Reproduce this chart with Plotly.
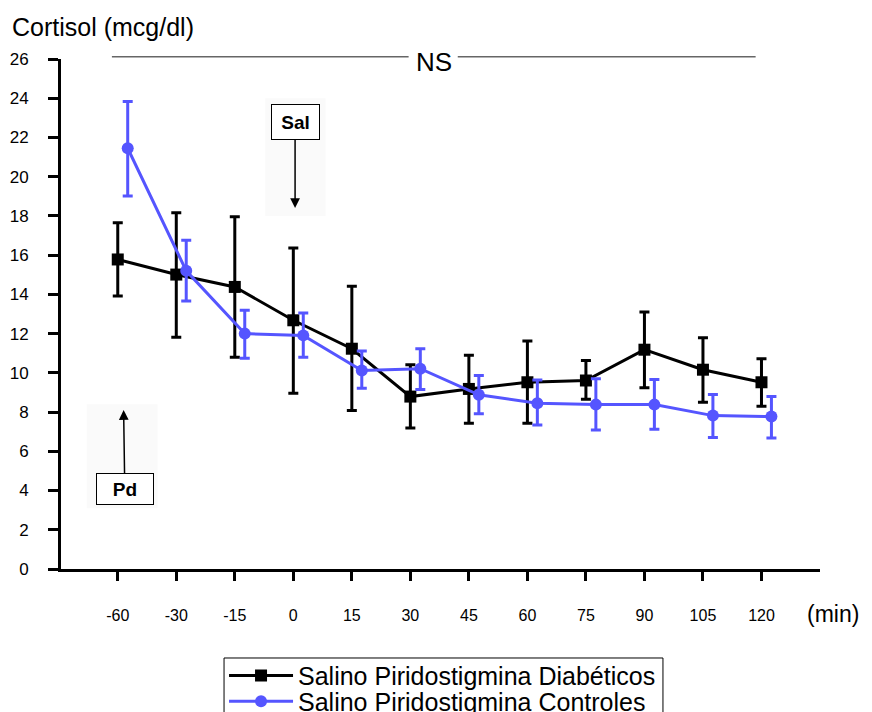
import plotly.graph_objects as go
import numpy as np

# ---- data ----
times = ["-60", "-30", "-15", "0", "15", "30", "45", "60", "75", "90", "105", "120"]

diab_mean = [15.78, 15.01, 14.38, 12.68, 11.23, 8.79, 9.18, 9.52, 9.61, 11.18, 10.16, 9.52]
diab_upper = [17.65, 18.16, 17.96, 16.37, 14.41, 10.41, 10.90, 11.62, 10.63, 13.10, 11.79, 10.72]
diab_lower = [13.92, 11.82, 10.80, 8.96, 8.08, 7.19, 7.43, 7.43, 8.65, 9.24, 8.50, 8.30]

ctrl_mean = [21.45, 15.20, 12.00, 11.91, 10.12, 10.21, 8.88, 8.45, 8.38, 8.38, 7.82, 7.77]
ctrl_upper = [23.83, 16.76, 13.19, 13.05, 11.11, 11.23, 9.86, 9.64, 9.70, 9.66, 8.89, 8.79]
ctrl_lower = [19.01, 13.66, 10.75, 10.80, 9.22, 9.15, 7.91, 7.34, 7.09, 7.12, 6.71, 6.68]

y_ticks = list(range(0, 27, 2))

BLUE = "rgb(85,85,255)"
FONT = "Liberation Sans, Arial, sans-serif"

idx = np.arange(len(times))
d_mean = np.array(diab_mean)
c_mean = np.array(ctrl_mean)

fig = go.Figure()

fig.add_trace(go.Scatter(
    x=idx, y=d_mean, mode="lines+markers",
    name="Salino Piridostigmina Diabéticos",
    legend="legend",
    line=dict(color="black", width=3),
    marker=dict(symbol="square", size=12, color="black"),
    error_y=dict(type="data", symmetric=False,
                 array=np.array(diab_upper) - d_mean,
                 arrayminus=d_mean - np.array(diab_lower),
                 color="black", thickness=3, width=5),
))

fig.add_trace(go.Scatter(
    x=idx + 0.17, y=c_mean, mode="lines+markers",
    name="Salino Piridostigmina Controles",
    legend="legend2",
    line=dict(color=BLUE, width=3),
    marker=dict(symbol="circle", size=12, color=BLUE),
    error_y=dict(type="data", symmetric=False,
                 array=np.array(ctrl_upper) - c_mean,
                 arrayminus=c_mean - np.array(ctrl_lower),
                 color=BLUE, thickness=3, width=5),
))

# faint backgrounds behind arrows
fig.add_shape(type="rect", xref="x", yref="y", x0=2.52, x1=3.55, y0=18.0, y1=24.0,
              fillcolor="#fafafa", line_width=0, layer="below")
fig.add_shape(type="rect", xref="x", yref="y", x0=-0.53, x1=0.68, y0=3.1, y1=8.4,
              fillcolor="#fafafa", line_width=0, layer="below")

# NS bracket lines
fig.add_shape(type="line", xref="x", yref="paper", x0=-0.10, x1=4.97, y0=1.0045, y1=1.0045,
              line=dict(color="#666666", width=1.5))
fig.add_shape(type="line", xref="x", yref="paper", x0=5.81, x1=10.9, y0=1.0045, y1=1.0045,
              line=dict(color="#666666", width=1.5))

# legend frame
fig.add_shape(type="rect", xref="paper", yref="paper", x0=0.2148, x1=0.7931,
              y0=-0.1745, y1=-0.40, line=dict(color="black", width=1), fillcolor="rgba(0,0,0,0)")

annotations = [
    dict(text="Cortisol (mcg/dl)", xref="paper", yref="paper", x=-0.0675, y=1.0627,
         xanchor="left", yanchor="middle", showarrow=False,
         font=dict(size=25, color="black", family=FONT)),
    dict(text="(min)", xref="paper", yref="paper", x=1.054, y=-0.089,
         xanchor="right", yanchor="middle", showarrow=False,
         font=dict(size=23, color="black", family=FONT)),
    dict(text="NS", xref="x", yref="paper", x=5.41, y=0.9947,
         xanchor="center", yanchor="middle", showarrow=False,
         font=dict(size=26, color="black", family=FONT)),
    dict(text="<b>Sal</b>", x=3.03, y=18.4, xref="x", yref="y",
         ax=3.03, ay=22.8, axref="x", ayref="y",
         showarrow=True, arrowhead=2, arrowsize=1.3, arrowwidth=1.5, arrowcolor="black",
         bordercolor="black", borderwidth=1, borderpad=2, bgcolor="white",
         width=43, height=30,
         font=dict(size=19, color="black", family=FONT)),
    dict(text="<b>Pd</b>", x=0.10, y=8.1, xref="x", yref="y",
         ax=0.12, ay=4.08, axref="x", ayref="y",
         showarrow=True, arrowhead=2, arrowsize=1.3, arrowwidth=1.5, arrowcolor="black",
         bordercolor="black", borderwidth=1, borderpad=2, bgcolor="white",
         width=52, height=26,
         font=dict(size=19, color="black", family=FONT)),
]

legend_common = dict(xanchor="left", yanchor="middle",
                     borderwidth=0, bgcolor="rgba(0,0,0,0)",
                     font=dict(size=25, color="black", family=FONT),
                     itemwidth=64)

fig.update_layout(
    width=864, height=704,
    margin=dict(l=53, r=52, t=51, b=143, autoexpand=False),
    paper_bgcolor="white", plot_bgcolor="white",
    font=dict(family=FONT, color="black"),
    showlegend=True,
    legend=dict(x=0.2148, y=(569 - 675.7) / 510, **legend_common),
    legend2=dict(x=0.2148, y=(569 - 701.5) / 510, **legend_common),
    annotations=annotations,
    xaxis=dict(range=[-0.97, 12], tickmode="array", tickvals=idx, ticktext=times,
               showline=True, linecolor="black", linewidth=3,
               ticks="outside", ticklen=9, tickwidth=3, tickcolor="black",
               ticklabelstandoff=21,
               showgrid=False, zeroline=False,
               tickfont=dict(size=16, color="black", family=FONT)),
    yaxis=dict(range=[0, 26], tickmode="array", tickvals=y_ticks,
               showline=True, linecolor="black", linewidth=3,
               ticks="outside", ticklen=10, tickwidth=3, tickcolor="black",
               ticklabelstandoff=16,
               showgrid=False, zeroline=False,
               tickfont=dict(size=17, color="black", family=FONT)),
)

fig.write_html("out.html")
